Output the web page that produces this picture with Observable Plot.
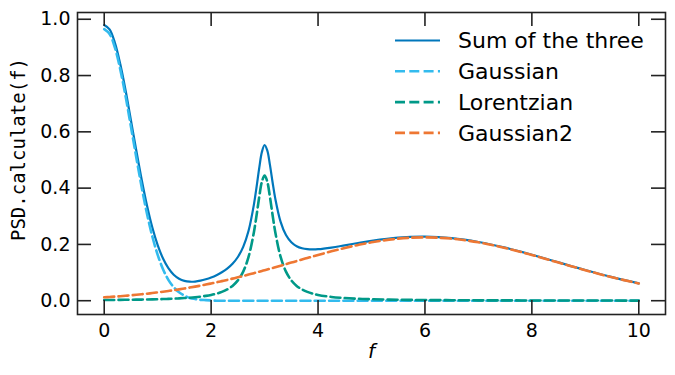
<!DOCTYPE html>
<html><head><meta charset="utf-8">
<script src="https://cdn.jsdelivr.net/npm/d3@7"></script>
<script src="https://cdn.jsdelivr.net/npm/@observablehq/plot@0.6"></script>
<style>
html,body{margin:0;padding:0;background:#fff;}
#chart{position:relative;width:675px;height:375px;}
#legend{position:absolute;left:0;top:0;pointer-events:none;}
</style></head><body><div id="chart"></div>
<script>
// ---- data ----
const f = [0,0.1,0.2,0.3,0.4,0.5,0.6,0.7,0.8,0.9,1.0,1.1,1.2,1.3,1.4,1.5,1.6,1.7,1.8,1.9,2.0,
  2.1,2.2,2.3,2.4,2.5,2.6,2.7,2.8,2.85,2.9,2.95,3.0,3.05,3.1,3.15,3.2,
  3.3,3.4,3.5,3.6,3.7,3.8,3.9,4.0,4.25,4.5,4.75,5.0,5.5,6.0,6.5,7.0,7.5,8.0,8.5,9.0,9.5,10.0];
const sumVals = [0.9795,0.9639,0.9163,0.8409,0.7468,0.6406,0.5337,0.4309,0.3384,0.2600,0.1978,0.1499,0.1156,0.0923,0.0781,0.0704,0.0675,0.0680,0.0711,0.0761,0.0826,
  0.0908,0.1011,0.1140,0.1312,0.1553,0.1912,0.2484,0.3415,0.4042,0.4718,0.5287,0.5533,0.5340,0.4824,0.4201,0.3626,
  0.2800,0.2332,0.2076,0.1936,0.1864,0.1831,0.1823,0.1830,0.1888,0.1968,0.2051,0.2127,0.2239,0.2274,0.2223,0.2087,0.1885,0.1634,0.1361,0.1089,0.0836,0.0617];
const gaussVals = [0.965,0.948,0.899,0.822,0.726,0.618,0.509,0.404,0.309,0.228,0.163,0.112,0.074,0.048,0.030,0.018,0.010,0.006,0.003,0.002,0.001,
  0,0,0,0,0,0,0,0,0,0,0,0,0,0,0,0,
  0,0,0,0,0,0,0,0,0,0,0,0,0,0,0,0,0,0,0,0,0,0];
const lorentzVals = [0.0024,0.0026,0.0027,0.0029,0.0032,0.0034,0.0037,0.0040,0.0044,0.0048,0.0053,0.0059,0.0066,0.0073,0.0083,0.0094,0.0107,0.0124,0.0145,0.0171,0.0205,
  0.0251,0.0313,0.0400,0.0527,0.0722,0.1033,0.1556,0.2436,0.3038,0.3688,0.4231,0.445,0.4231,0.3688,0.3038,0.2436,
  0.1556,0.1033,0.0722,0.0527,0.0400,0.0313,0.0251,0.0205,0.0134,0.0094,0.0069,0.0053,0.0034,0.0024,0.0018,0.0013,0.0011,0.0009,0.0007,0.0006,0.0005,0.0004];
const gauss2Vals = [0.0121,0.0133,0.0146,0.0160,0.0176,0.0192,0.0210,0.0229,0.0250,0.0272,0.0295,0.0320,0.0346,0.0373,0.0403,0.0434,0.0466,0.0500,0.0536,0.0574,0.0613,
  0.0653,0.0696,0.0739,0.0785,0.0831,0.0879,0.0928,0.0979,0.1004,0.1030,0.1056,0.1083,0.1109,0.1136,0.1163,0.1190,
  0.1244,0.1299,0.1354,0.1409,0.1464,0.1518,0.1572,0.1625,0.1754,0.1874,0.1982,0.2074,0.2205,0.2250,0.2205,0.2074,0.1874,0.1625,0.1354,0.1083,0.0831,0.0613];
const xTicks = [0,2,4,6,8,10];
const yTicks = [0.0,0.2,0.4,0.6,0.8,1.0];
const seriesNames = ["Sum of the three","Gaussian","Lorentzian","Gaussian2"];
const seriesColors = ["#0077BB","#33BBEE","#009988","#EE7733"];
const xLabel = "f";
const yLabel = "PSD.calculate(f)";

// ---- layout ----
const W = 675, H = 375, mL = 77, mR = 10, mT = 12, mB = 61;
const fw = W - mL - mR, fh = H - mT - mB, tickLen = 14;
const axisColor = "#222";
const dash = "10,4.3";

const rows = vals => f.map((x, i) => ({f: x, v: vals[i]}));
const allVals = [sumVals, gaussVals, lorentzVals, gauss2Vals];

const lines = allVals.map((vals, i) => Plot.line(rows(vals), {
  x: "f", y: "v", stroke: seriesColors[i], curve: "catmull-rom",
  strokeWidth: i === 0 ? 2.2 : 2.6,
  strokeDasharray: i === 0 ? null : dash
}));

const plot = Plot.plot({
  width: W, height: H,
  marginLeft: mL, marginRight: mR, marginTop: mT, marginBottom: mB,
  style: {fontFamily: "DejaVu Sans", fontSize: "19px", color: "#000", background: "#fff", overflow: "visible"},
  x: {domain: [-0.5, 10.5]},
  y: {domain: [-0.049, 1.024]},
  marks: [
    ...lines,
    Plot.frame({stroke: axisColor, strokeWidth: 1.6}),
    Plot.tickX(xTicks, {x: d => d, insetTop: fh - tickLen, stroke: axisColor, strokeWidth: 1.6}),
    Plot.tickX(xTicks, {x: d => d, insetBottom: fh - tickLen, stroke: axisColor, strokeWidth: 1.6}),
    Plot.tickY(yTicks, {y: d => d, insetRight: fw - tickLen, stroke: axisColor, strokeWidth: 1.6}),
    Plot.tickY(yTicks, {y: d => d, insetLeft: fw - tickLen, stroke: axisColor, strokeWidth: 1.6}),
    Plot.axisX({ticks: xTicks, tickSize: 0, tickPadding: 9, label: null, fontSize: 19}),
    Plot.axisY({ticks: yTicks, tickSize: 0, tickPadding: 7, label: null, fontSize: 19, tickFormat: d3.format(".1f")}),
    Plot.text([xLabel], {frameAnchor: "bottom", dy: 43, fontStyle: "italic", fontSize: 20, fill: "#000"}),
    Plot.text([yLabel], {frameAnchor: "left", textAnchor: "middle", dx: -59, dy: -14, rotate: -90, fontFamily: "DejaVu Sans Mono", fontSize: 19, fill: "#000"})
  ]
});
const chart = document.getElementById("chart");
chart.appendChild(plot);

// ---- legend (upper right, inside axes) ----
const leg = d3.select(chart).append("svg").attr("id", "legend").attr("width", W).attr("height", H);
const legX0 = 395, legX1 = 440, legTextX = 458, legY0 = 40.5, legDy = 30.8;
seriesNames.forEach((name, i) => {
  const y = legY0 + i * legDy;
  leg.append("line").attr("x1", legX0).attr("x2", legX1).attr("y1", y).attr("y2", y)
    .attr("stroke", seriesColors[i]).attr("stroke-width", i === 0 ? 2.2 : 2.6)
    .attr("stroke-dasharray", i === 0 ? null : dash);
  leg.append("text").attr("x", legTextX).attr("y", y).attr("dy", "0.36em")
    .attr("font-family", "DejaVu Sans").attr("font-size", 22).attr("fill", "#000").text(name);
});
</script></body></html>
